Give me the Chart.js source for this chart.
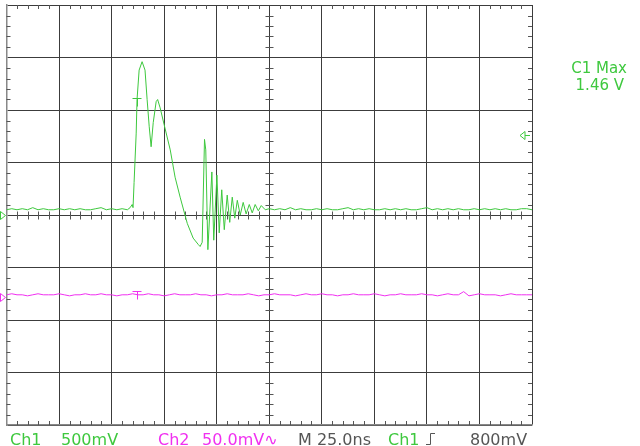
<!DOCTYPE html>
<html>
<head>
<meta charset="utf-8">
<script src="https://cdn.jsdelivr.net/npm/chart.js@4.4.0/dist/chart.umd.min.js"></script>
<style>
  html, body { margin: 0; padding: 0; background: #fff; }
  canvas { display: block; }
</style>
</head>
<body>
<canvas id="scope" width="640" height="446"></canvas>
<script>
// Horizontal: 25 ns/div, 10 divisions
const timeMin = 0;
const timeMax = 250;
const timePerDiv = 25;

// Ch1, 500 mV/div, ground at centre. Times in ns, values in V
const ch1Time = [
  0, 2.5, 5, 7.5, 10, 12.5, 15, 17.5, 20, 22.5, 25, 27.5, 30, 32.5, 35, 37.5, 40, 42.5, 45, 47.5, 50, 52.5, 55, 57.5,
  58.8, 59.8, 60.2, 60.7, 61.7, 62.1, 63.1, 64.5, 65.9, 66.9, 67.9, 68.8, 69.8, 71.2, 71.9, 73.1, 75.0, 77.9,
  80.2, 82.6, 86.0, 88.8, 91.2, 92.1, 93.1, 94.2, 94.8, 95.8, 97.7, 98.6, 100.1, 101.2, 102.4, 103.6, 105.0,
  106.2, 107.4, 108.6, 109.8, 111.2, 112.6, 114.0, 115.5, 116.9, 118.3, 119.8, 121.2, 123.1,
  125, 127.5, 130, 132.5, 135, 137.5, 140, 142.5, 145, 147.5, 150, 152.5, 155, 157.5, 160, 162.5, 165, 167.5,
  170, 172.5, 175, 177.5, 180, 182.5, 185, 187.5, 190, 192.5, 195, 197.5, 200, 202.5, 205, 207.5, 210, 212.5,
  215, 217.5, 220, 222.5, 225, 227.5, 230, 232.5, 235, 237.5, 240, 242.5, 245, 247.5, 250
];
const ch1Volts = [
  0.05, 0.06, 0.05, 0.06, 0.05, 0.07, 0.05, 0.06, 0.05, 0.05, 0.06, 0.05, 0.06, 0.05, 0.06, 0.05, 0.05, 0.06, 0.07, 0.05, 0.06, 0.05, 0.06, 0.05,
  0.07, 0.10, 0.07, 0.31, 0.78, 1.10, 1.38, 1.46, 1.38, 1.10, 0.84, 0.65, 0.88, 1.08, 1.10, 1.02, 0.86, 0.62,
  0.36, 0.17, -0.08, -0.22, -0.28, -0.30, -0.26, 0.72, 0.62, -0.33, 0.41, -0.24, 0.38, -0.17, 0.24, -0.14, 0.19,
  -0.07, 0.17, -0.03, 0.14, 0.00, 0.12, 0.01, 0.10, 0.02, 0.10, 0.04, 0.09, 0.05,
  0.06, 0.05, 0.06, 0.05, 0.07, 0.05, 0.06, 0.05, 0.05, 0.06, 0.05, 0.06, 0.05, 0.05, 0.06, 0.07, 0.05, 0.06,
  0.05, 0.06, 0.05, 0.05, 0.06, 0.05, 0.06, 0.05, 0.06, 0.05, 0.05, 0.06, 0.07, 0.05, 0.06, 0.05, 0.06, 0.05,
  0.06, 0.05, 0.05, 0.06, 0.05, 0.06, 0.05, 0.06, 0.05, 0.06, 0.05, 0.05, 0.06, 0.06, 0.05
];
const ch1VoltsPerDiv = 0.5;
const ch1OffsetDiv = 0;

// Ch2, 50 mV/div, values in mV sampled every 2.5 ns
const ch2Step = 2.5;
const ch2mV = [
  2, 3, 2, 2, 1, 2, 3, 2, 2, 2, 3, 2, 1, 2, 2, 3, 2, 2, 3, 2, 2, 1, 2, 2, 3,
  2, 2, 3, 2, 2, 1, 2, 3, 2, 2, 2, 3, 2, 2, 1, 2, 2, 3, 2, 2, 2, 3, 2, 1, 2,
  2, 3, 2, 2, 2, 1, 2, 3, 2, 2, 3, 2, 2, 1, 2, 2, 3, 2, 2, 2, 3, 2, 1, 2, 2,
  3, 2, 2, 2, 3, 2, 2, 1, 2, 3, 2, 2, 5, 1, 2, 3, 2, 2, 2, 1, 2, 3, 2, 2, 2, 2
];
const ch2mVPerDiv = 50;
const ch2OffsetDiv = -1.56;

// Trigger / readout
const trigTime = 62.1;
const trigLevelDiv = 1.52;
const trigMarkDiv = [2.22, -1.45];
const measLabel = 'C1 Max';
const measValue = '1.46 V';

const green = '#3ec83e';
const magenta = '#f030f0';
const gridColor = '#3c3c3c';

const ch1Points = ch1Time.map((t, i) => ({ x: t, y: ch1Volts[i] / ch1VoltsPerDiv + ch1OffsetDiv }));
const ch2Points = ch2mV.map((v, i) => ({ x: i * ch2Step, y: v / ch2mVPerDiv + ch2OffsetDiv }));

const scopeMarks = {
  id: 'scopeMarks',
  beforeDatasetsDraw(chart) {
    const { ctx, chartArea: a, scales: { x, y } } = chart;
    const cx = Math.round(x.getPixelForValue((timeMin + timeMax) / 2)) + 0.5;
    const cy = Math.round(y.getPixelForValue(0)) + 0.5;
    ctx.save();
    ctx.strokeStyle = '#555';
    ctx.lineWidth = 1;
    ctx.beginPath();
    for (let t = timeMin; t <= timeMax; t += timePerDiv / 5) {
      if (t % timePerDiv === 0) continue;
      const px = Math.round(x.getPixelForValue(t)) + 0.5;
      ctx.moveTo(px, a.top); ctx.lineTo(px, a.top + 4);
      ctx.moveTo(px, a.bottom); ctx.lineTo(px, a.bottom - 4);
      ctx.moveTo(px, cy - 4); ctx.lineTo(px, cy + 4);
    }
    for (let i = -20; i <= 20; i++) {
      if (i % 5 === 0) continue;
      const py = Math.round(y.getPixelForValue(i / 5)) + 0.5;
      ctx.moveTo(a.left, py); ctx.lineTo(a.left + 4, py);
      ctx.moveTo(a.right, py); ctx.lineTo(a.right - 4, py);
      ctx.moveTo(cx - 4, py); ctx.lineTo(cx + 4, py);
    }
    ctx.stroke();
    ctx.restore();
  },
  afterDraw(chart) {
    const { ctx, chartArea: a, scales: { x, y } } = chart;
    ctx.save();
    ctx.lineWidth = 1;

    // ground markers on the left
    [[ch1OffsetDiv, green], [ch2OffsetDiv, magenta]].forEach(([d, c]) => {
      const py = Math.round(y.getPixelForValue(d)) + 0.5;
      ctx.strokeStyle = c;
      ctx.beginPath();
      ctx.moveTo(a.left - 6, py - 4);
      ctx.lineTo(a.left - 1, py);
      ctx.lineTo(a.left - 6, py + 4);
      ctx.closePath();
      ctx.stroke();
    });

    // trigger level arrow on the right
    const ty = Math.round(y.getPixelForValue(trigLevelDiv)) + 0.5;
    ctx.strokeStyle = green;
    ctx.beginPath();
    ctx.moveTo(a.right - 2, ty);
    ctx.lineTo(a.right - 7, ty);
    ctx.moveTo(a.right - 7, ty - 4);
    ctx.lineTo(a.right - 12, ty);
    ctx.lineTo(a.right - 7, ty + 4);
    ctx.closePath();
    ctx.stroke();

    // trigger "T" marks
    const tx = Math.round(x.getPixelForValue(trigTime)) + 0.5;
    [[trigMarkDiv[0], green], [trigMarkDiv[1], magenta]].forEach(([d, c]) => {
      const py = Math.round(y.getPixelForValue(d)) + 0.5;
      ctx.strokeStyle = c;
      ctx.beginPath();
      ctx.moveTo(tx - 5, py); ctx.lineTo(tx + 4, py);
      ctx.moveTo(tx, py); ctx.lineTo(tx, py + 8);
      ctx.stroke();
    });

    // measurement readout
    ctx.fillStyle = green;
    ctx.font = '15px "DejaVu Sans"';
    ctx.textAlign = 'right';
    ctx.textBaseline = 'alphabetic';
    ctx.fillText(measLabel, 627, 73);
    ctx.fillText(measValue, 624, 90);

    // status line
    ctx.textAlign = 'left';
    ctx.font = '16px "DejaVu Sans"';
    const base = 445;
    [['Ch1', 10, green], ['500mV', 61, green], ['Ch2', 158, magenta], ['50.0mV\u223F', 202, magenta],
     ['M 25.0ns', 298, '#555'], ['Ch1', 388, green], ['800mV', 470, '#555']].forEach(([s, px, c]) => {
      ctx.fillStyle = c;
      ctx.fillText(s, px, base);
    });
    // rising edge symbol
    ctx.strokeStyle = '#555';
    ctx.beginPath();
    ctx.moveTo(426, 444.5); ctx.lineTo(430.5, 444.5); ctx.lineTo(430.5, 433.5); ctx.lineTo(435, 433.5);
    ctx.stroke();
    ctx.restore();
  }
};

new Chart(document.getElementById('scope'), {
  type: 'line',
  data: {
    datasets: [
      { label: 'Ch1', data: ch1Points, borderColor: green, borderWidth: 1, pointRadius: 0, tension: 0 },
      { label: 'Ch2', data: ch2Points, borderColor: magenta, borderWidth: 1, pointRadius: 0, tension: 0 }
    ]
  },
  options: {
    responsive: false,
    animation: false,
    devicePixelRatio: 1,
    layout: { padding: { left: 6.5, top: 5, right: 108, bottom: 21 } },
    plugins: { legend: { display: false }, tooltip: { enabled: false } },
    scales: {
      x: {
        type: 'linear', min: timeMin, max: timeMax,
        ticks: { display: false, stepSize: timePerDiv },
        grid: { color: gridColor, lineWidth: 1, drawTicks: false },
        border: { display: true, color: '#888', width: 1.5 }
      },
      y: {
        type: 'linear', min: -4, max: 4,
        ticks: { display: false, stepSize: 1 },
        grid: { color: gridColor, lineWidth: 1, drawTicks: false },
        border: { display: true, color: '#888', width: 1.5 }
      }
    }
  },
  plugins: [scopeMarks]
});
</script>
</body>
</html>
